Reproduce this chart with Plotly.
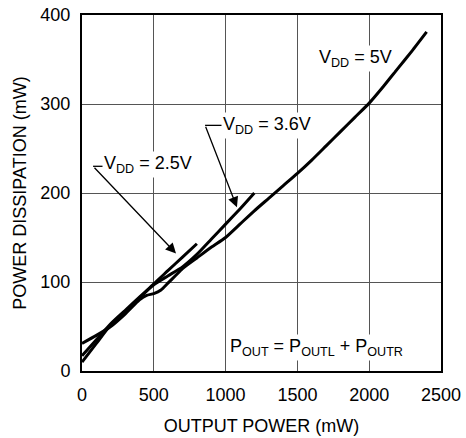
import plotly.graph_objects as go

# ---- data ----
p_25 = [0, 100, 200, 300, 400, 500, 600, 700, 800]
d_25 = [10, 31, 52, 67, 82, 98, 113, 128, 143]

p_36 = [0, 100, 200, 300, 400, 500, 600, 700, 800, 900, 1000, 1100, 1200]
d_36 = [17, 35, 53, 68, 83, 97, 107, 117, 131, 148, 165, 182, 200]

p_50 = [0, 100, 200, 300, 400, 450, 500, 550, 600, 650, 700, 800, 900, 1000, 1100,
        1200, 1300, 1400, 1500, 1600, 1700, 1800, 1900, 2000, 2100, 2200, 2300, 2400]
d_50 = [31, 40, 50, 64, 80, 85, 87, 91, 99, 107, 115, 127, 139, 150, 165,
        180, 194, 208, 222, 237, 253, 269, 285, 301, 320, 340, 360, 381]

x_ticks = [0, 500, 1000, 1500, 2000, 2500]
y_ticks = [0, 100, 200, 300, 400]

# label positions (data coordinates)
lbl_50 = (1908, 351)
lbl_36 = (1290, 276)
lbl_25 = (460, 232)
lbl_pout = (1636, 26)
lead_36 = dict(x0=857, x1=975, y=276, tipx=1079, tipy=184)
lead_25 = dict(x0=77, x1=195, y=230, tipx=655, tipy=132)

FONT = "Liberation Sans, Arial, sans-serif"
FS = 18

fig = go.Figure()
for px, dy in [(p_25, d_25), (p_36, d_36), (p_50, d_50)]:
    fig.add_trace(go.Scatter(x=px, y=dy, mode="lines",
                             line=dict(color="black", width=3, shape="spline", smoothing=0.5),
                             showlegend=False, hoverinfo="skip"))

anns = []
for (tx, ty), txt in [(lbl_50, "V<sub>DD</sub> = 5V"),
                      (lbl_36, "V<sub>DD</sub> = 3.6V"),
                      (lbl_25, "V<sub>DD</sub> = 2.5V"),
                      (lbl_pout, "P<sub>OUT</sub> = P<sub>OUTL</sub> + P<sub>OUTR</sub>")]:
    anns.append(dict(x=tx, y=ty, xref="x", yref="y", text=txt, showarrow=False,
                     font=dict(family=FONT, size=FS, color="black"),
                     bgcolor="white", borderpad=1))
shapes = []
for ld in (lead_36, lead_25):
    anns.append(dict(x=ld["tipx"], y=ld["tipy"], xref="x", yref="y",
                     ax=ld["x0"], ay=ld["y"], axref="x", ayref="y", text="",
                     showarrow=True, arrowhead=2, arrowsize=1.6, arrowwidth=1.3,
                     arrowcolor="black"))
    shapes.append(dict(type="line", xref="x", yref="y", x0=ld["x0"], x1=ld["x1"],
                       y0=ld["y"], y1=ld["y"], line=dict(color="black", width=1.3)))

fig.update_layout(
    width=466, height=438,
    margin=dict(l=82, r=25, t=15, b=67),
    paper_bgcolor="white", plot_bgcolor="white",
    font=dict(family=FONT, size=FS, color="black"),
    annotations=anns, shapes=shapes,
)
fig.update_xaxes(range=[0, 2500], tickvals=x_ticks, showgrid=True, gridcolor="#555",
                 gridwidth=1, showline=True, linecolor="black", linewidth=2, mirror=True,
                 zeroline=False, ticks="", ticklabelstandoff=6, automargin=False,
                 ticklabeloverflow="allow",
                 title=dict(text="OUTPUT POWER (mW)", standoff=16,
                            font=dict(family=FONT, size=FS)))
fig.update_yaxes(range=[0, 400], tickvals=y_ticks, showgrid=True, gridcolor="#555",
                 gridwidth=1, showline=True, linecolor="black", linewidth=2, mirror=True,
                 zeroline=False, ticks="", ticklabelstandoff=6, automargin=False,
                 ticklabeloverflow="allow",
                 title=dict(text="POWER DISSIPATION (mW)", standoff=9,
                            font=dict(family=FONT, size=FS)))

# remove the browser's default 8px body margin so the figure fills the window
fig.write_html("out.html", config={"displayModeBar": False},
               post_script="document.body.style.margin='0px';")
